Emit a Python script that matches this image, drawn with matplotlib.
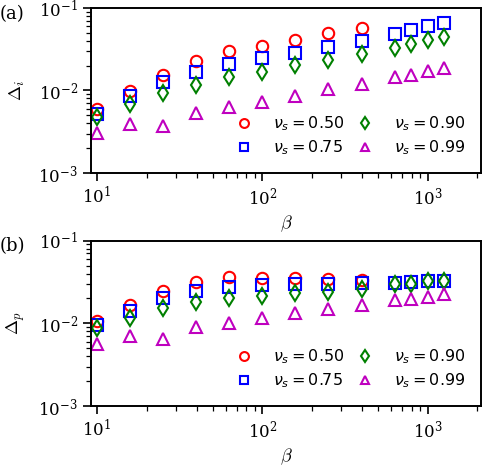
import matplotlib
matplotlib.use("Agg")
import matplotlib.pyplot as plt
from matplotlib.font_manager import FontProperties

plt.rcParams['mathtext.fontset'] = 'cm'
plt.rcParams['font.family'] = 'serif'
plt.rcParams['font.serif'] = ['DejaVu Serif']

beta = [10, 15.8, 25.1, 39.8, 63.1, 100, 158, 251, 398, 631, 794, 1000, 1259]
beta_050 = beta[:9]

# panel (a): Delta_i
di_050 = [0.0060, 0.0098, 0.0155, 0.0226, 0.0300, 0.0347, 0.0404, 0.0491, 0.0575]
di_075 = [0.0052, 0.0085, 0.0128, 0.0169, 0.0207, 0.0248, 0.0288, 0.0339, 0.0400,
          0.0482, 0.0540, 0.0610, 0.0662]
di_090 = [0.0048, 0.0068, 0.0093, 0.0118, 0.0145, 0.0169, 0.0202, 0.0232, 0.0275,
          0.0331, 0.0364, 0.0415, 0.0440]
di_099 = [0.00305, 0.0039, 0.00374, 0.00535, 0.0063, 0.0072, 0.0085, 0.0103, 0.0119,
          0.0144, 0.0153, 0.0171, 0.0185]

# panel (b): Delta_p
dp_050 = [0.0107, 0.0167, 0.0246, 0.0316, 0.0360, 0.0355, 0.0350, 0.0340, 0.0334]
dp_075 = [0.0095, 0.0142, 0.0200, 0.0246, 0.0272, 0.0288, 0.0299, 0.0302, 0.0305,
          0.0310, 0.0319, 0.0328, 0.0328]
dp_090 = [0.0087, 0.0115, 0.0152, 0.0180, 0.0200, 0.0214, 0.0231, 0.0242, 0.0260,
          0.0299, 0.0299, 0.0328, 0.0325]
dp_099 = [0.0056, 0.0071, 0.0065, 0.0091, 0.0102, 0.0117, 0.0132, 0.0150, 0.0167,
          0.0191, 0.0199, 0.0210, 0.0226]

labels = [r'$\nu_s = 0.50$', r'$\nu_s = 0.75$', r'$\nu_s = 0.90$', r'$\nu_s = 0.99$']

fig = plt.figure(figsize=(4.9, 4.66), dpi=100)
ax1 = fig.add_axes([0.1857, 0.6288, 0.7959, 0.354])
ax2 = fig.add_axes([0.1857, 0.1288, 0.7959, 0.3547])

ms = 8.2
mew = 1.5

def draw(ax, y50, y75, y90, y99, ylabel, tag):
    ax.plot(beta_050, y50, 'o', mfc='none', mec='red', ms=ms, mew=mew, label=labels[0])
    ax.plot(beta, y75, 's', mfc='none', mec='blue', ms=ms, mew=mew, label=labels[1])
    ax.plot(beta, y90, 'd', mfc='none', mec='green', ms=ms, mew=mew, label=labels[2])
    ax.plot(beta, y99, '^', mfc='none', mec='m', ms=ms, mew=mew, label=labels[3])
    ax.set_xscale('log')
    ax.set_yscale('log')
    ax.set_xlim(9.2, 2100)
    ax.set_ylim(1e-3, 1e-1)
    ax.set_xlabel(r'$\beta$', fontsize=13)
    ax.set_ylabel(ylabel, fontsize=13)
    ax.yaxis.set_label_coords(-0.163, 0.5)
    ax.tick_params(which='major', length=6, width=1.2, labelsize=12)
    ax.tick_params(which='minor', length=3.5, width=0.9)
    for s in ax.spines.values():
        s.set_linewidth(1.4)
    prop = FontProperties(family='DejaVu Sans', size=11.5, math_fontfamily='dejavusans')
    ax.legend(ncol=2, loc='lower right', frameon=False, prop=prop,
              handletextpad=1.3, columnspacing=0.8, borderaxespad=0.6,
              labelspacing=0.31, handlelength=1.0, markerscale=0.78,
              bbox_to_anchor=(1.0, 0.0))
    ax.text(-0.235, 0.965, tag, transform=ax.transAxes, fontsize=13,
            family='DejaVu Serif', va='center', ha='left')

draw(ax1, di_050, di_075, di_090, di_099, r'$\Delta_i$', '(a)')
draw(ax2, dp_050, dp_075, dp_090, dp_099, r'$\Delta_p$', '(b)')

fig.savefig('out.png', dpi=100)
